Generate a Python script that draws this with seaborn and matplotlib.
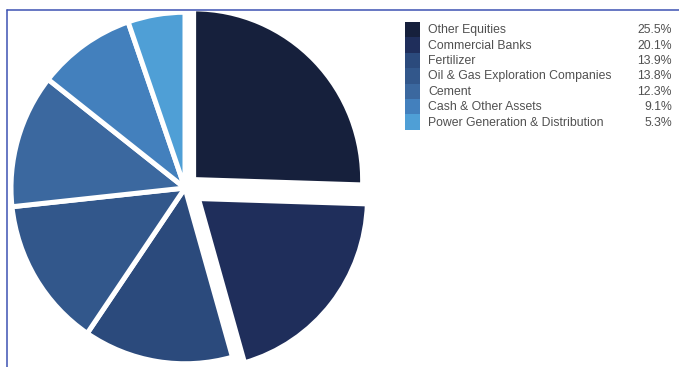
import matplotlib
matplotlib.use("Agg")
import matplotlib.pyplot as plt
from matplotlib.patches import Rectangle
from matplotlib.lines import Line2D
import seaborn as sns

# Sector allocation (% of net assets)
categories = [
    "Other Equities",
    "Commercial Banks",
    "Fertilizer",
    "Oil & Gas Exploration Companies",
    "Cement",
    "Cash & Other Assets",
    "Power Generation & Distribution",
]
shares = [25.5, 20.1, 13.9, 13.8, 12.3, 9.1, 5.3]
share_labels = [f"{v:.1f}%" for v in shares]

sns.set_theme(style="white")
plt.rcParams["font.family"] = ["Liberation Sans", "DejaVu Sans"]

palette = sns.color_palette(
    ["#16203c", "#1f2e5b", "#2b4a7c", "#32578b", "#3b689f", "#4380bd", "#4f9fd6"]
)

W, H = 679, 367
YS = 1.01  # vertical pixels per data unit
fig = plt.figure(figsize=(W / 100, H / 100), dpi=100)
fig.patch.set_facecolor("white")
ax = fig.add_axes([0, 0, 1, 1])


def py(y_px):
    """Pixel row measured from the top -> data y."""
    return (H - y_px) / YS


wedges, _ = ax.pie(
    shares,
    colors=palette,
    startangle=90,
    counterclock=False,
    radius=174,
    center=(185, py(188)),
    explode=[12, 17, 0, 0, 0, 0, 0],
    wedgeprops=dict(edgecolor="white", linewidth=3.6),
)
# the two pulled-out slices are drawn slightly smaller
for w in wedges[:2]:
    w.set_radius(169)

ax.set_xlim(0, W)
ax.set_ylim(0, H / YS)
ax.set_aspect("auto")
ax.axis("off")

# Legend: colour strip, category names and right-aligned shares
row_h = 15.4
top = 22
txt_col = "#505050"
for i, (cat, lab, col) in enumerate(zip(categories, share_labels, palette)):
    y0 = top + i * row_h
    ax.add_patch(Rectangle((405, py(y0 + row_h)), 15, row_h / YS,
                           facecolor=col, edgecolor="none"))
    yc = py(y0 + row_h / 2 + 0.5)
    ax.text(428, yc, cat, ha="left", va="center", fontsize=8.8, color=txt_col)
    ax.text(672, yc, lab, ha="right", va="center", fontsize=8.8, color=txt_col)

# Thin frame along the top and left edges
frame_col = "#3d52b3"
fig.add_artist(Line2D([7 / W, 1], [1 - 10 / H, 1 - 10 / H],
                      transform=fig.transFigure, color=frame_col, lw=1.1))
fig.add_artist(Line2D([7 / W, 7 / W], [0, 1 - 10 / H],
                      transform=fig.transFigure, color=frame_col, lw=1.1))

fig.savefig("out.png", dpi=100, facecolor="white")
